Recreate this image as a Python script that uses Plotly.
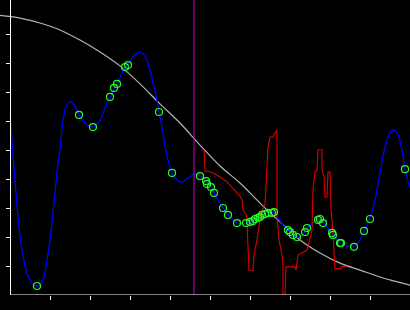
import plotly.graph_objects as go

# Gray reference curve
gray_x = [-0.25, 0.25, 0.75, 1.25, 1.75, 2.25, 2.75, 3.25, 3.75, 4.25, 4.75, 5.25,
          5.75, 6.25, 6.75, 7.25, 7.75, 8.25, 8.75, 9.25, 9.5, 10.0]
gray_y = [9.64, 9.55, 9.38, 9.14, 8.79, 8.38, 7.90, 7.28, 6.59, 5.93, 5.17, 4.45,
          3.86, 3.17, 2.52, 1.90, 1.45, 1.10, 0.86, 0.62, 0.52, 0.34]

# Blue smooth curve
blue_x = [0.0, 0.075, 0.125, 0.2, 0.3, 0.425, 0.55, 0.675, 0.8, 0.925, 1.05, 1.125,
          1.2, 1.25, 1.325, 1.4, 1.5, 1.625, 1.725, 1.925, 2.075, 2.25, 2.425, 2.525,
          2.625, 2.7, 2.875, 2.95, 3.075, 3.175, 3.25, 3.35, 3.45, 3.575, 3.675, 3.725,
          3.8, 3.85, 3.95, 4.05, 4.175, 4.3, 4.45, 4.625, 4.75, 4.9, 5.025, 5.1, 5.2,
          5.325, 5.45, 5.575, 5.675, 5.8, 5.925, 6.05, 6.175, 6.3, 6.425, 6.575, 6.7,
          6.825, 6.95, 7.075, 7.175, 7.3, 7.425, 7.55, 7.7, 7.825, 7.95, 8.075, 8.25,
          8.425, 8.6, 8.75, 8.85, 9.0, 9.125, 9.25, 9.375, 9.5, 9.575, 9.675, 9.8,
          9.875, 10.0]
blue_y = [6.31, 4.83, 3.97, 2.69, 1.55, 0.76, 0.41, 0.31, 0.45, 1.21, 2.48, 3.52,
          4.55, 5.0, 6.03, 6.48, 6.66, 6.52, 6.21, 5.86, 5.79, 6.03, 6.62, 6.86,
          7.17, 7.34, 7.86, 7.97, 8.21, 8.34, 8.38, 8.28, 8.0, 7.31, 6.72, 6.31,
          5.79, 5.34, 4.66, 4.21, 3.97, 3.90, 4.03, 4.17, 4.10, 3.93, 3.72, 3.52, 3.28,
          3.0, 2.76, 2.59, 2.48, 2.45, 2.48, 2.55, 2.66, 2.76, 2.86, 2.86, 2.66,
          2.41, 2.24, 2.07, 2.0, 2.07, 2.31, 2.48, 2.62, 2.52, 2.31, 2.10, 1.79,
          1.69, 1.69, 1.90, 2.21, 2.66, 3.28, 4.21, 5.10, 5.59, 5.69, 5.59, 5.0,
          4.34, 3.69]

# Green observation markers
obs_x = [0.675, 1.725, 2.075, 2.5, 2.6, 2.675, 2.875, 2.95, 3.725, 4.05, 4.75, 4.9,
         4.925, 5.025, 5.1, 5.325, 5.45, 5.675, 5.9, 6.0, 6.075, 6.125, 6.2, 6.25,
         6.3, 6.375, 6.45, 6.55, 6.6, 6.95, 7.0, 7.075, 7.175, 7.375, 7.425, 7.7,
         7.75, 7.825, 8.05, 8.075, 8.25, 8.275, 8.6, 8.85, 9.0, 9.875]
obs_y = [0.31, 6.21, 5.79, 6.83, 7.14, 7.28, 7.86, 7.93, 6.31, 4.21, 4.10, 3.93,
         3.83, 3.72, 3.52, 3.0, 2.76, 2.48, 2.48, 2.52, 2.55, 2.62, 2.66, 2.69,
         2.76, 2.79, 2.83, 2.83, 2.86, 2.24, 2.17, 2.07, 2.0, 2.17, 2.31, 2.59,
         2.62, 2.48, 2.14, 2.07, 1.79, 1.79, 1.66, 2.21, 2.62, 4.34]

# Red jagged curve
red_x = [4.8, 4.85, 4.875, 5.025, 5.125, 5.25, 5.425, 5.575, 5.75, 5.8, 5.825, 5.9,
         5.925, 5.95, 5.975, 6.075, 6.1, 6.175, 6.225, 6.275, 6.375, 6.425, 6.45,
         6.5, 6.575, 6.625, 6.675, 6.675, 6.725, 6.8, 6.825, 6.825, 6.875, 6.9,
         7.125, 7.15, 7.175, 7.2, 7.425, 7.475, 7.55, 7.575, 7.625, 7.675, 7.7,
         7.8, 7.8, 7.85, 7.875, 7.925, 7.95, 8.0, 8.025, 8.075, 8.1, 8.125, 8.275,
         8.275, 8.425]
red_y = [5.0, 5.0, 4.28, 4.24, 4.17, 4.07, 3.90, 3.69, 3.41, 3.28, 2.93, 2.79,
         2.52, 1.66, 0.86, 0.83, 1.38, 1.90, 2.31, 2.86, 3.10, 4.21, 5.10,
         5.45, 5.45, 5.59, 5.69, 2.69, 1.90, 1.38, 1.03, -0.03, -0.03, 0.97,
         0.97, 0.86, 1.21, 1.38, 1.55, 1.79, 2.24, 3.62, 4.24, 4.31, 5.0,
         5.0, 4.31, 4.07, 3.38, 3.38, 4.24, 4.24, 2.93, 2.14, 1.45, 0.90, 0.90,
         0.97, 1.0]

vline_x = 4.6
tick_vals = [1, 2, 3, 4, 5, 6, 7, 8, 9]
x_range = [-0.25, 10.0]
y_range = [0, 295 / 29]

fig = go.Figure()
fig.add_trace(go.Scatter(x=gray_x, y=gray_y, mode="lines", line=dict(color="#b4b4b4", width=1.2, shape="spline"), hoverinfo="skip"))
fig.add_trace(go.Scatter(x=blue_x, y=blue_y, mode="lines", line=dict(color="#0000ff", width=1.3, shape="spline"), hoverinfo="skip"))
fig.add_trace(go.Scatter(x=red_x, y=red_y, mode="lines", line=dict(color="#dd0000", width=1.1), hoverinfo="skip"))
fig.add_trace(go.Scatter(x=[vline_x, vline_x], y=y_range, mode="lines", line=dict(color="#aa00aa", width=1.2), hoverinfo="skip"))
fig.add_trace(go.Scatter(x=obs_x, y=obs_y, mode="markers",
                         marker=dict(symbol="circle-open", size=7, color="#22ff22", line=dict(width=1.2, color="#22ff22")),
                         hoverinfo="skip"))

fig.add_shape(type="line", xref="x", yref="y", x0=0, x1=10, y0=0, y1=0,
              line=dict(color="white", width=1.2), layer="above")

fig.update_layout(
    width=410, height=310,
    margin=dict(l=0, r=0, t=0, b=15),
    paper_bgcolor="black", plot_bgcolor="black",
    showlegend=False,
    xaxis=dict(range=x_range, showgrid=False, zeroline=False, showline=False,
               ticks="outside", ticklen=4, tickwidth=1, tickcolor="white",
               tickmode="array", tickvals=tick_vals, showticklabels=False),
    yaxis=dict(range=y_range, showgrid=False, zeroline=False, showline=True,
               linecolor="white", linewidth=1.2, anchor="free", position=10 / 410,
               ticks="outside", ticklen=4, tickwidth=1, tickcolor="white",
               tickmode="array", tickvals=tick_vals, showticklabels=False),
)

fig.write_html("out.html")
